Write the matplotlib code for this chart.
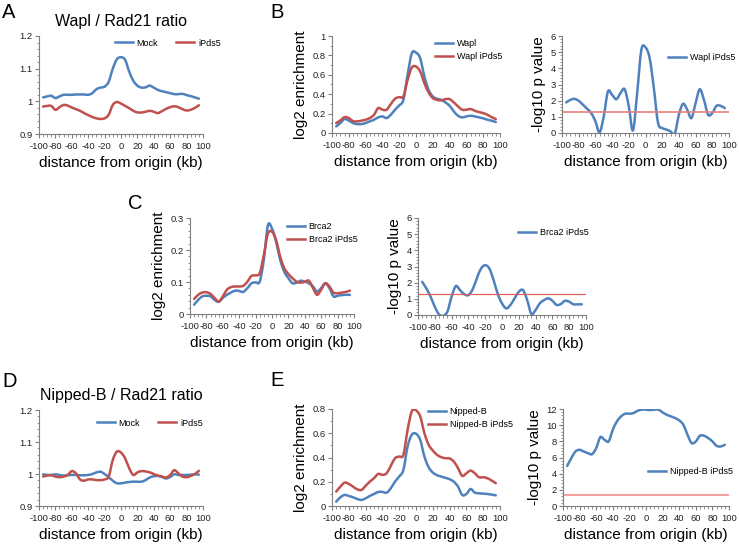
import numpy as np
import matplotlib
matplotlib.use("Agg")
import matplotlib.pyplot as plt
from matplotlib.ticker import MultipleLocator
from matplotlib.path import Path
from matplotlib.patches import PathPatch

plt.rcParams['font.family'] = ['Liberation Sans', 'DejaVu Sans']
plt.rcParams['axes.unicode_minus'] = False

# distance from origin (kb)
dist = list(range(-95, 100, 5))

# A: Wapl / Rad21 ratio
a_mock = [1.012, 1.015, 1.017, 1.010, 1.015, 1.020, 1.020, 1.020, 1.021, 1.021, 1.021, 1.020,
          1.025, 1.037, 1.042, 1.045, 1.060, 1.100, 1.129, 1.135, 1.127, 1.091, 1.063, 1.048,
          1.042, 1.043, 1.048, 1.042, 1.035, 1.031, 1.028, 1.025, 1.022, 1.022, 1.023, 1.019,
          1.016, 1.012, 1.008]
a_ipds5 = [0.984, 0.986, 0.986, 0.974, 0.982, 0.989, 0.987, 0.981, 0.976, 0.971, 0.964, 0.958,
           0.952, 0.948, 0.946, 0.948, 0.959, 0.989, 0.998, 0.993, 0.986, 0.979, 0.971, 0.966,
           0.966, 0.968, 0.971, 0.968, 0.964, 0.970, 0.977, 0.982, 0.985, 0.982, 0.976, 0.972,
           0.974, 0.980, 0.988]

# B: Wapl enrichment and p value
b_wapl = [0.068, 0.103, 0.144, 0.127, 0.103, 0.092, 0.092, 0.103, 0.120, 0.137, 0.161, 0.171,
          0.154, 0.188, 0.240, 0.284, 0.342, 0.600, 0.822, 0.829, 0.770, 0.582, 0.445, 0.377,
          0.353, 0.342, 0.315, 0.281, 0.223, 0.178, 0.161, 0.171, 0.178, 0.171, 0.161, 0.151,
          0.137, 0.127, 0.113]
b_wapl_ipds5 = [0.103, 0.130, 0.164, 0.154, 0.123, 0.120, 0.127, 0.137, 0.154, 0.188, 0.257, 0.240,
                0.240, 0.298, 0.353, 0.370, 0.377, 0.548, 0.675, 0.685, 0.634, 0.514, 0.418, 0.360,
                0.342, 0.336, 0.349, 0.349, 0.315, 0.274, 0.240, 0.240, 0.247, 0.229, 0.216, 0.205,
                0.188, 0.164, 0.144]
b_pval = [1.89, 2.05, 2.11, 1.99, 1.75, 1.50, 1.23, 0.72, 0.04, 1.03, 2.57, 2.36,
          2.09, 2.46, 2.71, 1.64, 0.16, 2.46, 5.13, 5.30, 4.62, 2.77, 0.62, 0.31,
          0.21, 0.10, -0.05, 1.13, 1.81, 1.44, 0.92, 1.85, 2.71, 2.05, 1.13, 1.23,
          1.68, 1.68, 1.54]

# C: Brca2 enrichment and p value
c_brca2 = [0.029, 0.044, 0.055, 0.057, 0.055, 0.044, 0.038, 0.050, 0.060, 0.067, 0.073, 0.072,
           0.069, 0.081, 0.096, 0.099, 0.101, 0.169, 0.277, 0.267, 0.226, 0.169, 0.132, 0.112,
           0.096, 0.098, 0.104, 0.101, 0.096, 0.086, 0.070, 0.081, 0.096, 0.081, 0.055, 0.057,
           0.059, 0.060, 0.060]
c_brca2_ipds5 = [0.047, 0.060, 0.067, 0.068, 0.063, 0.050, 0.039, 0.055, 0.076, 0.084, 0.086, 0.086,
                 0.088, 0.101, 0.119, 0.121, 0.127, 0.184, 0.251, 0.257, 0.231, 0.179, 0.143, 0.125,
                 0.112, 0.101, 0.098, 0.101, 0.104, 0.081, 0.060, 0.076, 0.096, 0.086, 0.067, 0.065,
                 0.067, 0.069, 0.073]
c_pval = [2.05, 1.64, 1.13, 0.51, 0.04, -0.05, 0.21, 1.13, 1.79, 1.54, 1.29, 1.23,
          1.58, 2.26, 2.87, 3.08, 2.87, 2.16, 1.29, 0.72, 0.41, 0.62, 1.03, 1.44,
          1.54, 0.92, 0.06, 0.31, 0.72, 0.92, 1.03, 0.88, 0.62, 0.68, 0.88, 0.82,
          0.66, 0.66, 0.66]

# D: Nipped-B / Rad21 ratio
d_mock = [0.999, 0.997, 0.997, 0.999, 0.997, 0.995, 0.996, 0.997, 0.997, 0.996, 0.996, 0.997,
          1.000, 1.005, 1.007, 1.000, 0.990, 0.979, 0.971, 0.971, 0.973, 0.975, 0.976, 0.976,
          0.976, 0.981, 0.989, 0.993, 0.994, 0.991, 0.986, 0.991, 0.999, 0.997, 0.997, 0.997,
          0.998, 0.999, 0.998]
d_ipds5 = [0.992, 0.995, 0.996, 0.992, 0.990, 0.992, 0.997, 1.009, 1.002, 0.983, 0.979, 0.983,
           0.983, 0.981, 0.981, 0.983, 0.992, 1.044, 1.070, 1.067, 1.049, 1.018, 0.997, 1.005,
           1.009, 1.008, 1.005, 1.000, 0.995, 0.992, 0.989, 0.997, 1.012, 1.002, 0.992, 0.990,
           0.994, 1.000, 1.010]

# E: Nipped-B enrichment and p value
e_nipb = [0.036, 0.072, 0.091, 0.083, 0.072, 0.058, 0.050, 0.063, 0.083, 0.099, 0.116, 0.116,
          0.110, 0.146, 0.201, 0.243, 0.298, 0.491, 0.588, 0.596, 0.546, 0.408, 0.320, 0.276,
          0.254, 0.243, 0.232, 0.221, 0.201, 0.160, 0.091, 0.099, 0.140, 0.110, 0.105, 0.102,
          0.099, 0.094, 0.088]
e_nipb_ipds5 = [0.119, 0.160, 0.193, 0.182, 0.160, 0.138, 0.132, 0.166, 0.201, 0.229, 0.265, 0.257,
                0.270, 0.331, 0.394, 0.408, 0.422, 0.629, 0.781, 0.789, 0.739, 0.601, 0.505, 0.458,
                0.422, 0.403, 0.394, 0.392, 0.367, 0.312, 0.248, 0.270, 0.292, 0.270, 0.237, 0.237,
                0.229, 0.210, 0.188]
e_pval = [4.96, 5.92, 6.74, 6.95, 6.74, 6.54, 6.41, 7.16, 8.52, 8.19, 7.99, 9.43,
          10.47, 11.09, 11.42, 11.42, 11.50, 11.79, 11.92, 11.92, 11.87, 11.92, 11.92, 11.58,
          11.29, 11.09, 10.88, 10.59, 10.05, 8.81, 7.78, 7.99, 8.69, 8.69, 8.40, 7.99,
          7.45, 7.36, 7.57]

p_threshold = 1.3  # -log10(0.05)

BLUE = '#4F81BD'
RED = '#C0504D'
XLAB = 'distance from origin (kb)'

W, H = 739, 545
fig = plt.figure(figsize=(W / 100, H / 100), dpi=100)


def box(l, r, t, b):
    return [l / W, 1 - b / H, (r - l) / W, (b - t) / H]


def smooth_line(ax, x, y, color, label):
    # Excel-style smoothed line: cubic Bezier segments through the data points
    x = np.asarray(x, float)
    y = np.asarray(y, float)
    n = len(x)
    verts = [(x[0], y[0])]
    codes = [Path.MOVETO]
    for i in range(n - 1):
        i0, i2, i3 = max(i - 1, 0), i + 1, min(i + 2, n - 1)
        c1 = (x[i] + (x[i2] - x[i0]) / 6, y[i] + (y[i2] - y[i0]) / 6)
        c2 = (x[i2] - (x[i3] - x[i]) / 6, y[i2] - (y[i3] - y[i]) / 6)
        verts += [c1, c2, (x[i2], y[i2])]
        codes += [Path.CURVE4] * 3
    ax.add_patch(PathPatch(Path(verts, codes), fill=False, edgecolor=color, lw=1.8,
                           capstyle='round', joinstyle='round'))
    ax.plot([], [], color=color, lw=1.8, label=label)


def style(ax, ylim, major, minor, ylabel=None):
    ax.set_xlim(-100, 100)
    ax.set_ylim(*ylim)
    ax.xaxis.set_major_locator(MultipleLocator(20))
    ax.xaxis.set_minor_locator(MultipleLocator(5))
    ax.yaxis.set_major_locator(MultipleLocator(major))
    ax.yaxis.set_minor_locator(MultipleLocator(minor))
    ax.yaxis.set_major_formatter(plt.FuncFormatter(lambda v, p: ('%g' % round(v, 3))))
    for s in ['top', 'right']:
        ax.spines[s].set_visible(False)
    for s in ['left', 'bottom']:
        ax.spines[s].set_color('#7f7f7f')
        ax.spines[s].set_linewidth(0.8)
    ax.tick_params(which='major', length=3, width=0.8, color='#7f7f7f', labelsize=6.8,
                   labelcolor='#222222')
    ax.tick_params(which='minor', length=1.8, width=0.6, color='#7f7f7f')
    ax.tick_params(axis='y', pad=1.5)
    ax.tick_params(axis='x', pad=2.5)
    ax.set_xlabel(XLAB, fontsize=11, labelpad=4)
    if ylabel:
        ax.set_ylabel(ylabel, fontsize=11, labelpad=3)


def legend(ax, loc_xy, ncol=1):
    ax.legend(loc='center left', bbox_to_anchor=loc_xy, frameon=False, fontsize=6.5,
              ncol=ncol, borderpad=0, borderaxespad=0, handlelength=2.0,
              handletextpad=0.4, labelspacing=0.45, columnspacing=2.0)


# ---- A ----
ax = fig.add_axes(box(39, 203, 36, 134))
smooth_line(ax, dist, a_mock, BLUE, 'Mock')
smooth_line(ax, dist, a_ipds5, RED, 'iPds5')
style(ax, (0.9, 1.2), 0.1, 0.02)
ax.set_title('Wapl / Rad21 ratio', fontsize=11.5, pad=7)
legend(ax, ((115 - 39) / 164, 1 - (43 - 36) / 98), ncol=2)

# ---- B ----
ax = fig.add_axes(box(332, 500, 36, 133))
smooth_line(ax, dist, b_wapl, BLUE, 'Wapl')
smooth_line(ax, dist, b_wapl_ipds5, RED, 'Wapl iPds5')
style(ax, (0, 1), 0.2, 0.1, 'log2 enrichment')
legend(ax, ((435 - 332) / 168, 1 - (50 - 36) / 97))

ax = fig.add_axes(box(562, 729, 36, 133))
smooth_line(ax, dist, b_pval, BLUE, 'Wapl iPds5')
ax.axhline(p_threshold, color='#E8807E', lw=1.2)
style(ax, (0, 6), 1, 0.2, '-log10 p value')
legend(ax, ((668 - 562) / 167, 1 - (58 - 36) / 97))

# ---- C ----
ax = fig.add_axes(box(190, 354, 218, 314))
smooth_line(ax, dist, c_brca2, BLUE, 'Brca2')
smooth_line(ax, dist, c_brca2_ipds5, RED, 'Brca2 iPds5')
style(ax, (0, 0.3), 0.1, 0.02, 'log2 enrichment')
legend(ax, ((287 - 190) / 164, 1 - (233 - 218) / 96))

ax = fig.add_axes(box(418, 586, 218, 315))
smooth_line(ax, dist, c_pval, BLUE, 'Brca2 iPds5')
ax.axhline(p_threshold, color='#E06060', lw=0.9)
style(ax, (0, 6), 1, 0.2, '-log10 p value')
legend(ax, ((518 - 418) / 168, 1 - (233 - 218) / 97))

# ---- D ----
ax = fig.add_axes(box(39, 203, 410, 506))
smooth_line(ax, dist, d_mock, BLUE, 'Mock')
smooth_line(ax, dist, d_ipds5, RED, 'iPds5')
style(ax, (0.9, 1.2), 0.1, 0.02)
ax.set_title('Nipped-B / Rad21 ratio', fontsize=11.5, pad=7)
legend(ax, ((97 - 39) / 164, 1 - (423 - 410) / 96), ncol=2)

# ---- E ----
ax = fig.add_axes(box(332, 500, 409, 506))
smooth_line(ax, dist, e_nipb, BLUE, 'Nipped-B')
smooth_line(ax, dist, e_nipb_ipds5, RED, 'Nipped-B iPds5')
style(ax, (0, 0.8), 0.2, 0.1, 'log2 enrichment')
legend(ax, ((428 - 332) / 168, 1 - (418 - 409) / 97))

ax = fig.add_axes(box(563, 729, 409, 506))
smooth_line(ax, dist, e_pval, BLUE, 'Nipped-B iPds5')
ax.axhline(p_threshold, color='#F2A0A0', lw=1.5)
style(ax, (0, 12), 2, 0.4, '-log10 p value')
legend(ax, ((648 - 563) / 166, 1 - (472 - 409) / 97))

# panel letters
for letter, x, y in [('A', 2, 3), ('B', 270, 3), ('C', 128, 194), ('D', 2, 372), ('E', 270, 371)]:
    fig.text(x / W, 1 - y / H, letter, fontsize=14.5, ha='left', va='top')

fig.savefig('out.png', dpi=100)
